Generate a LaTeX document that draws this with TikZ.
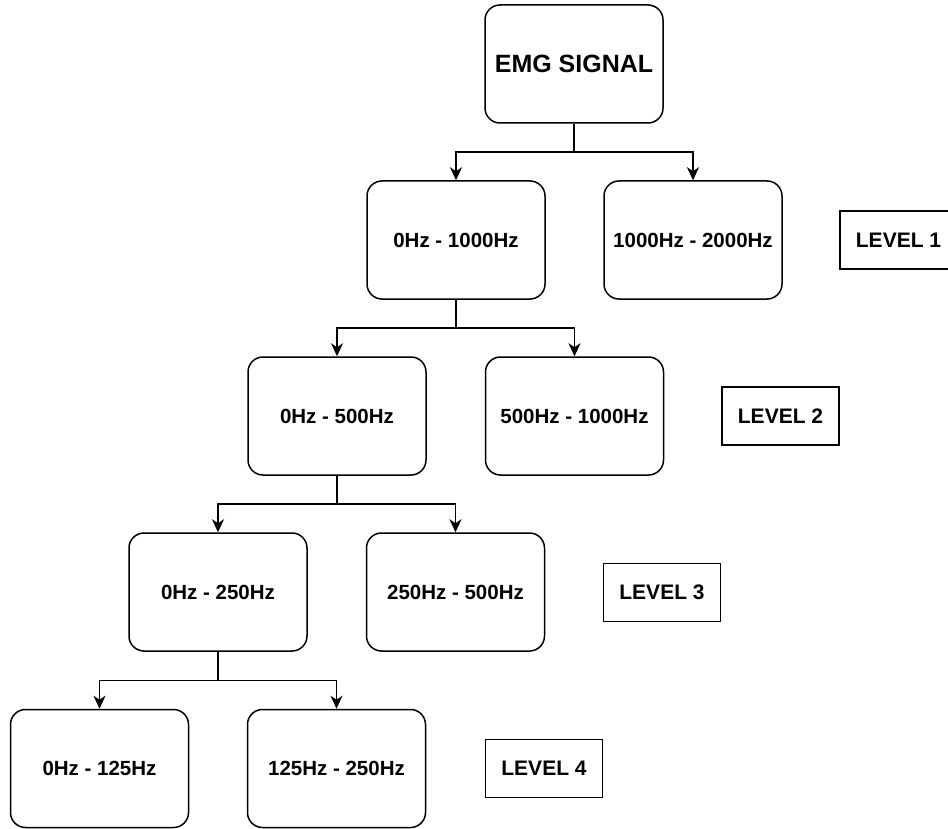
\documentclass[tikz,border=0pt]{standalone}
\usepackage{fontspec}
\setmainfont{Liberation Sans}
\usetikzlibrary{arrows.meta,calc}
\tikzset{
  bandbox/.style={draw=black, line width=1.5pt, rounded corners=15pt, minimum width=178pt, minimum height=118pt, inner sep=0pt, font=\fontsize{20.5}{24}\selectfont\bfseries, align=center},
  topbox/.style={bandbox, font=\fontsize{25}{29}\selectfont\bfseries},
  levelbox/.style={draw=black, line width=1.5pt, minimum width=117pt, minimum height=58pt, inner sep=0pt, font=\fontsize{21}{24}\selectfont\bfseries},
  link/.style={draw=black, line width=1.5pt, -{Stealth[length=13pt,width=12pt,inset=4pt]}}
}
\begin{document}
\begin{tikzpicture}[x=1pt,y=-1pt]
\useasboundingbox (0,0) rectangle (948,829);
\clip (0,0) rectangle (948,829);
\node[topbox] (emg) at (574,64) {EMG SIGNAL};
\node[bandbox] (a1) at (456,240) {0Hz - 1000Hz};
\node[bandbox] (b1) at (693,240) {1000Hz - 2000Hz};
\node[bandbox] (a2) at (337,416) {0Hz - 500Hz};
\node[bandbox] (b2) at (574.5,416) {500Hz - 1000Hz};
\node[bandbox] (a3) at (218,592) {0Hz - 250Hz};
\node[bandbox] (b3) at (455.5,592) {250Hz - 500Hz};
\node[bandbox] (a4) at (99.5,768.5) {0Hz - 125Hz};
\node[bandbox] (b4) at (336.5,768.5) {125Hz - 250Hz};
\node[levelbox] (l1) at (898.5,240) {LEVEL 1};
\node[levelbox] (l2) at (780.5,416) {LEVEL 2};
\node[levelbox] (l3) at (662,592.5) {LEVEL 3};
\node[levelbox] (l4) at (544,768.5) {LEVEL 4};
\foreach \p/\c in {emg/a1,emg/b1,a1/a2,a1/b2,a2/a3,a2/b3,a3/a4,a3/b4}{
  \draw[link] (\p.south) |- ($(\p.south)!.5!(\c.north)$) -| (\c.north);
}
\end{tikzpicture}
\end{document}
